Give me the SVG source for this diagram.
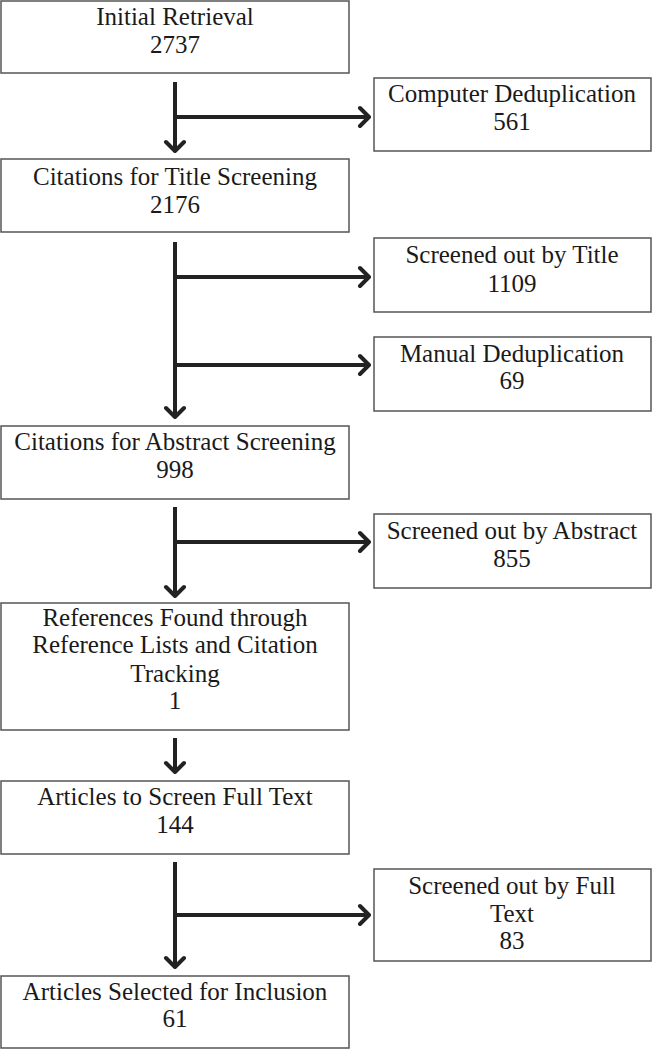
<svg xmlns="http://www.w3.org/2000/svg" width="652" height="1050" viewBox="0 0 652 1050">
<defs>
<style>
.box{fill:#fff;stroke:#555;stroke-width:1.5}
.t{font-family:"Liberation Serif",serif;font-size:25px;fill:#1a1a1a;text-anchor:middle}
.c{stroke:#222;stroke-width:4;fill:none}
</style>
<marker id="ah" markerUnits="userSpaceOnUse" viewBox="-14 -12 16 24" refX="0" refY="0" markerWidth="16" markerHeight="24" orient="auto">
<path d="M-9,-9 L0,0 L-9,9" fill="none" stroke="#222" stroke-width="4" stroke-linecap="round" stroke-linejoin="round"/>
</marker>
</defs>
<rect width="652" height="1050" fill="#fff"/>
<g id="n1"><rect class="box" x="1" y="1" width="348" height="72"/><text class="t" x="175" y="25">Initial Retrieval</text><text class="t" x="175" y="53">2737</text></g>
<g id="n2"><rect class="box" x="374" y="78" width="277" height="73"/><text class="t" x="512" y="102">Computer Deduplication</text><text class="t" x="512" y="130">561</text></g>
<g id="n3"><rect class="box" x="1" y="159" width="348" height="73"/><text class="t" x="175" y="185">Citations for Title Screening</text><text class="t" x="175" y="213">2176</text></g>
<g id="n4"><rect class="box" x="374" y="238" width="277" height="74"/><text class="t" x="512" y="263">Screened out by Title</text><text class="t" x="512" y="292">1109</text></g>
<g id="n5"><rect class="box" x="374" y="337" width="277" height="74"/><text class="t" x="512" y="362">Manual Deduplication</text><text class="t" x="512" y="389">69</text></g>
<g id="n6"><rect class="box" x="1" y="426" width="348" height="73"/><text class="t" x="175" y="450">Citations for Abstract Screening</text><text class="t" x="175" y="478">998</text></g>
<g id="n7"><rect class="box" x="374" y="514" width="277" height="74"/><text class="t" x="512" y="539">Screened out by Abstract</text><text class="t" x="512" y="567">855</text></g>
<g id="n8"><rect class="box" x="1" y="603" width="348" height="127"/><text class="t" x="175" y="626">References Found through</text><text class="t" x="175" y="653">Reference Lists and Citation</text><text class="t" x="175" y="682">Tracking</text><text class="t" x="175" y="709">1</text></g>
<g id="n9"><rect class="box" x="1" y="781" width="348" height="73"/><text class="t" x="175" y="805">Articles to Screen Full Text</text><text class="t" x="175" y="833">144</text></g>
<g id="n10"><rect class="box" x="374" y="869" width="277" height="92"/><text class="t" x="512" y="894">Screened out by Full</text><text class="t" x="512" y="922">Text</text><text class="t" x="512" y="949">83</text></g>
<g id="n11"><rect class="box" x="1" y="976" width="348" height="72"/><text class="t" x="175" y="1000">Articles Selected for Inclusion</text><text class="t" x="175" y="1027">61</text></g>
<g id="connectors">
<line class="c" x1="175" y1="82" x2="175" y2="151" marker-end="url(#ah)"/>
<line class="c" x1="175" y1="117" x2="369" y2="117" marker-end="url(#ah)"/>
<line class="c" x1="175" y1="242" x2="175" y2="417" marker-end="url(#ah)"/>
<line class="c" x1="175" y1="277" x2="369" y2="277" marker-end="url(#ah)"/>
<line class="c" x1="175" y1="365" x2="369" y2="365" marker-end="url(#ah)"/>
<line class="c" x1="175" y1="507" x2="175" y2="596" marker-end="url(#ah)"/>
<line class="c" x1="175" y1="542" x2="369" y2="542" marker-end="url(#ah)"/>
<line class="c" x1="175" y1="738" x2="175" y2="772" marker-end="url(#ah)"/>
<line class="c" x1="175" y1="862" x2="175" y2="967" marker-end="url(#ah)"/>
<line class="c" x1="175" y1="915" x2="369" y2="915" marker-end="url(#ah)"/>
</g>
</svg>
